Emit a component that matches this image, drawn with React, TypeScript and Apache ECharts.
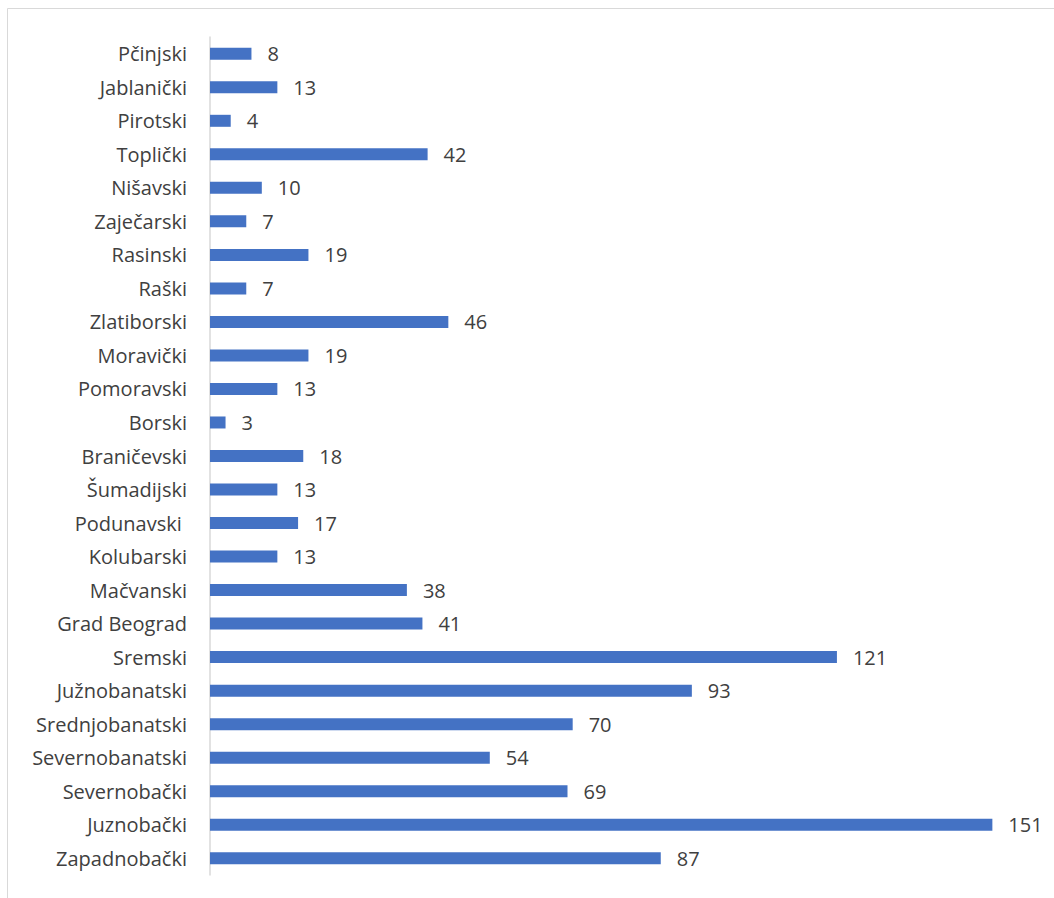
import React, { useEffect, useRef } from "react";
import * as echarts from "echarts";

const categories = [
  "Pčinjski", "Jablanički", "Pirotski", "Toplički", "Nišavski", "Zaječarski",
  "Rasinski", "Raški", "Zlatiborski", "Moravički", "Pomoravski", "Borski",
  "Braničevski", "Šumadijski", "Podunavski ", "Kolubarski", "Mačvanski",
  "Grad Beograd", "Sremski", "Južnobanatski", "Srednjobanatski",
  "Severnobanatski", "Severnobački", "Juznobački", "Zapadnobački",
];
const values = [8, 13, 4, 42, 10, 7, 19, 7, 46, 19, 13, 3, 18, 13, 17, 13, 38, 41, 121, 93, 70, 54, 69, 151, 87];

export default function App() {
  const ref = useRef<HTMLDivElement>(null);
  useEffect(() => {
    if (!ref.current) return;
    const chart = echarts.init(ref.current, null, { renderer: "svg" });
    chart.setOption({
      animation: false,
      backgroundColor: "#ffffff",
      graphic: [
        {
          type: "rect",
          shape: { x: 7.5, y: 8.5, width: 1100, height: 1000 },
          style: { fill: "none", stroke: "#d9d9d9", lineWidth: 1 },
        },
      ],
      grid: { left: 210, right: 15, top: 37, bottom: 23, containLabel: false },
      xAxis: {
        type: "value",
        min: 0,
        max: 160,
        show: false,
      },
      yAxis: {
        type: "category",
        data: categories,
        inverse: true,
        axisLine: { show: true, lineStyle: { color: "#d9d9d9", width: 1.5 } },
        axisTick: { show: false },
        axisLabel: {
          margin: 23,
          fontFamily: "Open Sans",
          fontSize: 20,
          color: "#404040",
        },
      },
      series: [
        {
          type: "bar",
          data: values,
          barWidth: 12,
          itemStyle: { color: "#4472C4" },
          label: {
            show: true,
            position: "right",
            distance: 16,
            fontFamily: "Open Sans",
            fontSize: 20,
            color: "#404040",
          },
        },
      ],
    });
    return () => chart.dispose();
  }, []);
  return (
    <div
      ref={ref}
      style={{ position: "fixed", left: 0, top: 0, width: 1054, height: 898 }}
    />
  );
}
